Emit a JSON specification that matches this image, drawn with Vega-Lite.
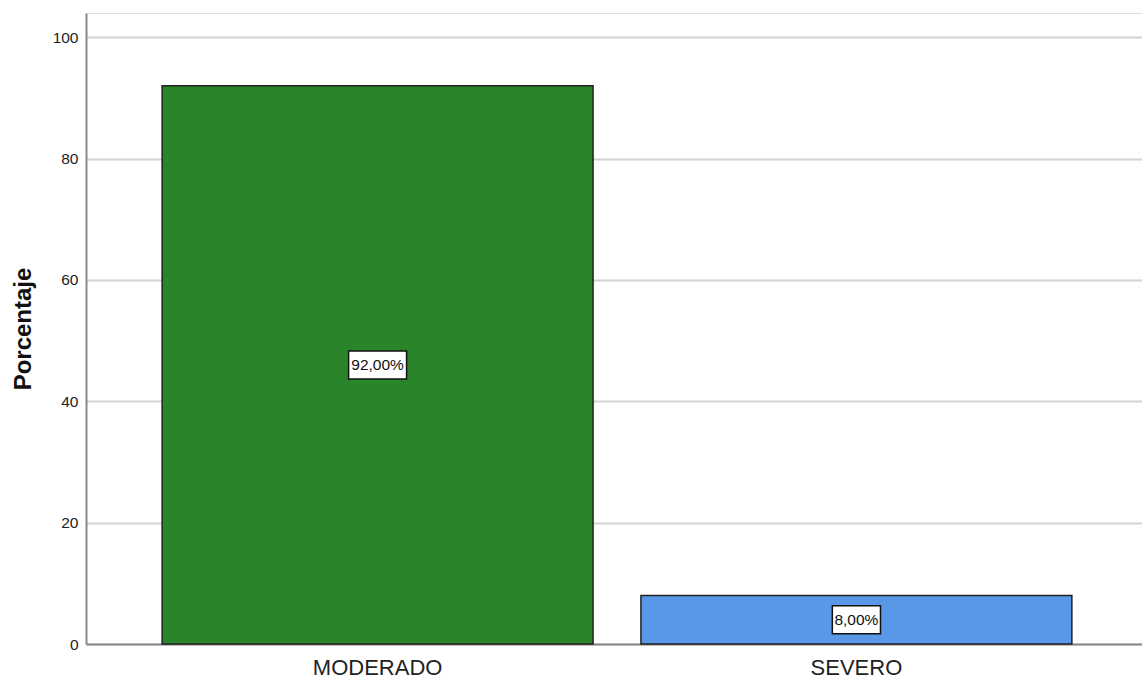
{
  "$schema": "https://vega.github.io/schema/vega-lite/v6.json",
  "autosize": {"type": "none"},
  "width": 1062,
  "height": 631,
  "padding": {"left": 86, "top": 13, "right": 0, "bottom": 38},
  "background": "white",
  "data": {"values": [
    {"nivel": "MODERADO", "porcentaje": 92, "etiqueta": "92,00%"},
    {"nivel": "SEVERO", "porcentaje": 8, "etiqueta": "8,00%"}
  ]},
  "transform": [{"calculate": "datum.porcentaje / 2", "as": "mitad"}],
  "encoding": {
    "x": {
      "field": "nivel", "type": "nominal", "sort": null,
      "scale": {"paddingInner": 0.1, "paddingOuter": 0.159},
      "axis": {
        "title": null, "labelAngle": 0, "ticks": false, "domain": true,
        "domainColor": "#8a8a8a", "domainWidth": 2,
        "labelFont": "Liberation Sans", "labelFontSize": 22,
        "labelColor": "#222", "labelPadding": 13
      }
    }
  },
  "layer": [
    {
      "mark": {"type": "bar", "stroke": "#222222", "strokeWidth": 1.5},
      "encoding": {
        "y": {
          "field": "porcentaje", "type": "quantitative",
          "scale": {"domain": [0, 104], "nice": false},
          "axis": {
            "title": "Porcentaje", "values": [0, 20, 40, 60, 80, 100],
            "ticks": false, "grid": true, "gridColor": "#d3d3d3", "gridWidth": 2,
            "domainColor": "#8a8a8a", "domainWidth": 2,
            "labelFont": "Liberation Sans", "labelFontSize": 15.5,
            "labelColor": "#222", "labelPadding": 8,
            "titleFont": "Liberation Sans", "titleFontSize": 24, "titleFontWeight": "bold",
            "titleColor": "#111", "titlePadding": 17
          }
        },
        "color": {
          "field": "nivel", "type": "nominal",
          "scale": {"domain": ["MODERADO", "SEVERO"], "range": ["#2a852a", "#5898e6"]},
          "legend": null
        }
      }
    },
    {
      "mark": {"type": "point", "filled": true, "fill": "white", "stroke": "#111", "strokeWidth": 1.5, "opacity": 1, "size": 784},
      "encoding": {
        "y": {"field": "mitad", "type": "quantitative"},
        "shape": {
          "field": "nivel", "type": "nominal",
          "scale": {"domain": ["MODERADO", "SEVERO"], "range": ["M-2.07,-1H2.07V1H-2.07Z", "M-1.72,-1H1.72V1H-1.72Z"]},
          "legend": null
        }
      }
    },
    {
      "mark": {"type": "text", "font": "Liberation Sans", "fontSize": 15.5, "color": "#111", "baseline": "middle", "align": "center"},
      "encoding": {
        "y": {"field": "mitad", "type": "quantitative"},
        "text": {"field": "etiqueta"}
      }
    }
  ]
}
